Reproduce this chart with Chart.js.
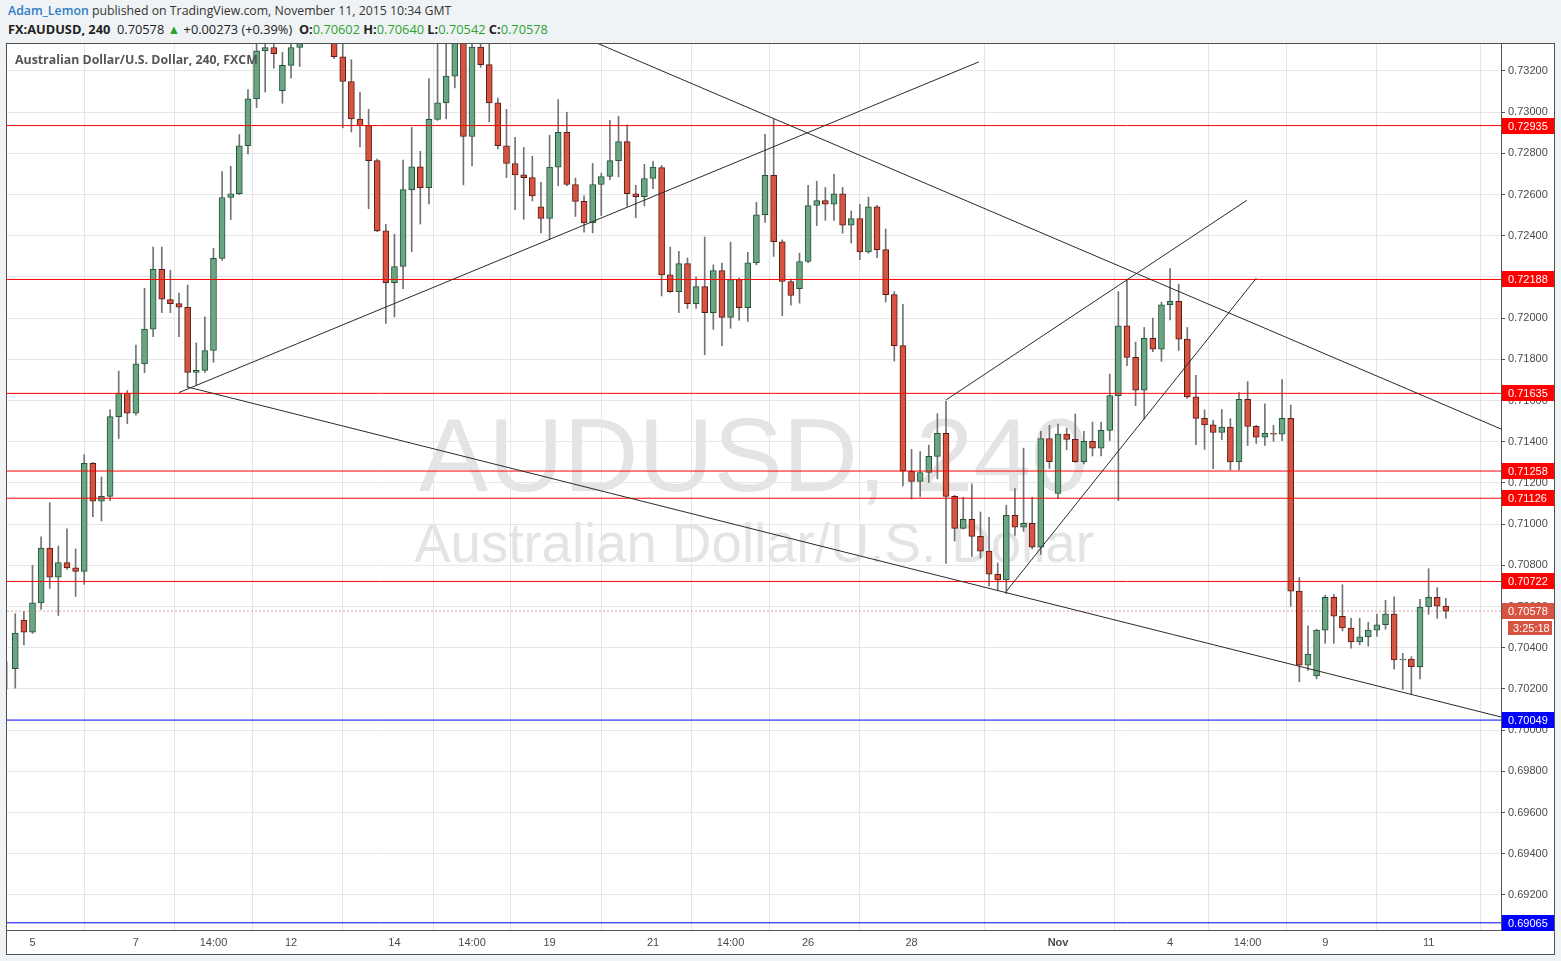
<!DOCTYPE html>
<html><head><meta charset="utf-8">
<script src="https://cdn.jsdelivr.net/npm/chart.js@4.4.0/dist/chart.umd.min.js"></script>
<style>
html,body{margin:0;padding:0;background:#f0f3f6;width:1561px;height:961px;overflow:hidden;font-family:"Open Sans",sans-serif}
#h1{position:absolute;left:8px;top:2px;font-size:12.3px;line-height:18px;color:#333;white-space:nowrap}
#h1 .user{color:#2f7bc4;font-weight:600}
#h2{position:absolute;left:8px;top:20px;font-size:12.8px;line-height:18px;color:#222;white-space:nowrap}
#h2 b{font-weight:700}
#h2 .g{color:#2ea22e}
#panel{position:absolute;left:6px;top:43px;width:1549px;height:912px;box-sizing:border-box;border:1px solid #505050;background:#fff}
#title{position:absolute;left:15px;top:51px;font-size:12.35px;line-height:18px;font-weight:700;color:#555;white-space:nowrap}
canvas{display:block}
</style></head><body>
<div id="h1"><span class="user">Adam_Lemon</span> published on TradingView.com, November 11, 2015 10:34 GMT</div>
<div id="h2"><b>FX:AUDUSD, 240</b>&nbsp; 0.70578 <span class="g">&#9650;</span> +0.00273 (+0.39%)&nbsp; <b>O:</b><span class="g">0.70602</span> <b>H:</b><span class="g">0.70640</span> <b>L:</b><span class="g">0.70542</span> <b>C:</b><span class="g">0.70578</span></div>
<div id="panel"><canvas id="c" width="1547" height="910" style="width:1547px;height:910px"></canvas></div>
<div id="title">Australian Dollar/U.S. Dollar, 240, FXCM</div>
<script>
// ---- data (4h candles, index 0 = partly hidden first bar) ----
const opens = [0.70298,
0.70298,0.70535,0.70476,0.70618,0.70884,0.70743,0.70814,0.70788,0.70771,0.71296,
0.71112,0.71135,0.71522,0.71637,0.71539,0.71778,0.71947,0.72237,0.72090,0.72071,
0.72053,0.71737,0.71747,0.71843,0.72290,0.72586,0.72604,0.72837,0.73065,0.73298,
0.73314,0.73104,0.73227,0.73314,0.73370,0.73440,0.73410,0.73380,0.73269,0.73149,
0.72967,0.72935,0.72765,0.72424,0.72173,0.72251,0.72624,0.72735,0.72633,0.72965,
0.73045,0.73175,0.73380,0.72882,0.73316,0.73231,0.73045,0.72837,0.72751,0.72696,
0.72682,0.72541,0.72484,0.72733,0.72902,0.72649,0.72567,0.72463,0.72649,0.72688,
0.72765,0.72857,0.72604,0.72590,0.72678,0.72731,0.72210,0.72129,0.72265,0.72071,
0.72153,0.72027,0.72231,0.72004,0.72188,0.72051,0.72269,0.72502,0.72694,0.72371,
0.72178,0.72143,0.72275,0.72547,0.72571,0.72553,0.72604,0.72451,0.72484,0.72322,
0.72541,0.72333,0.72114,0.71867,0.71257,0.71208,0.71251,0.71329,0.71441,0.71135,
0.70980,0.71024,0.70941,0.70869,0.70757,0.70729,0.71043,0.70986,0.71004,0.70888,
0.71416,0.71149,0.71437,0.71412,0.71304,0.71402,0.71369,0.71455,0.71624,0.71963,
0.71810,0.71651,0.71902,0.71849,0.72065,0.72082,0.71898,0.71618,0.71514,0.71482,
0.71445,0.71471,0.71302,0.71606,0.71475,0.71422,0.71441,0.71437,0.71514,0.70675,
0.70316,0.70263,0.70486,0.70645,0.70553,0.70496,0.70429,0.70453,0.70486,0.70512,
0.70563,0.70341,0.70345,0.70308,0.70598,0.70645,0.70602];
const highs = [0.70330,
0.70565,0.70576,0.70800,0.70939,0.71104,0.70894,0.70978,0.70880,0.71337,0.71300,
0.71229,0.71555,0.71743,0.71649,0.71869,0.72145,0.72345,0.72345,0.72233,0.72122,
0.72161,0.71880,0.72006,0.72339,0.72712,0.72737,0.72892,0.73110,0.73350,0.73360,
0.73340,0.73290,0.73345,0.73420,0.73480,0.73500,0.73460,0.73420,0.73350,0.73255,
0.73096,0.73014,0.72773,0.72455,0.72408,0.72767,0.72926,0.72810,0.73163,0.73345,
0.73340,0.73420,0.73440,0.73360,0.73350,0.73345,0.73069,0.73014,0.72878,0.72829,
0.72786,0.72659,0.72888,0.73061,0.73000,0.72680,0.72594,0.72751,0.72704,0.72961,
0.72980,0.72939,0.72645,0.72747,0.72761,0.72741,0.72345,0.72324,0.72292,0.72200,
0.72394,0.72259,0.72267,0.72369,0.72195,0.72320,0.72563,0.72892,0.72965,0.72380,
0.72190,0.72316,0.72645,0.72665,0.72635,0.72698,0.72635,0.72520,0.72553,0.72588,
0.72548,0.72433,0.72129,0.72067,0.71363,0.71353,0.71384,0.71537,0.71596,0.71140,
0.71131,0.71196,0.71059,0.71033,0.70812,0.71092,0.71173,0.71369,0.71131,0.71451,
0.71480,0.71486,0.71465,0.71535,0.71451,0.71496,0.71496,0.71729,0.72129,0.72190,
0.71884,0.71955,0.72000,0.72078,0.72241,0.72165,0.71955,0.71722,0.71555,0.71504,
0.71557,0.71512,0.71639,0.71692,0.71480,0.71584,0.71480,0.71702,0.71578,0.70741,
0.70506,0.70490,0.70655,0.70659,0.70706,0.70543,0.70543,0.70524,0.70563,0.70631,
0.70647,0.70373,0.70357,0.70635,0.70784,0.70692,0.70640];
const lows = [0.70200,
0.70204,0.70414,0.70470,0.70586,0.70688,0.70557,0.70780,0.70649,0.70708,0.71037,
0.71016,0.71114,0.71416,0.71488,0.71529,0.71735,0.71910,0.72027,0.72027,0.71910,
0.71667,0.71675,0.71737,0.71786,0.72280,0.72478,0.72600,0.72798,0.73022,0.73098,
0.73214,0.73043,0.73165,0.73222,0.73345,0.73380,0.73350,0.73260,0.72924,0.72904,
0.72831,0.72531,0.72420,0.71975,0.72006,0.72143,0.72322,0.72457,0.72555,0.72960,
0.72967,0.73118,0.72647,0.72739,0.73218,0.72953,0.72822,0.72682,0.72527,0.72480,
0.72569,0.72414,0.72382,0.72643,0.72643,0.72494,0.72418,0.72414,0.72498,0.72673,
0.72686,0.72543,0.72488,0.72545,0.72629,0.72108,0.72125,0.72027,0.72047,0.72047,
0.71822,0.71945,0.71867,0.71951,0.71990,0.71984,0.72259,0.72465,0.72300,0.72012,
0.72063,0.72073,0.72269,0.72449,0.72475,0.72475,0.72412,0.72365,0.72284,0.72315,
0.72294,0.72078,0.71792,0.71186,0.71122,0.71135,0.71202,0.71220,0.70810,0.70918,
0.70976,0.70843,0.70835,0.70700,0.70678,0.70663,0.70945,0.70965,0.70880,0.70853,
0.71271,0.71124,0.71361,0.71300,0.71292,0.71331,0.71331,0.71406,0.71114,0.71769,
0.71575,0.71510,0.71837,0.71790,0.71992,0.71843,0.71610,0.71386,0.71363,0.71269,
0.71410,0.71263,0.71263,0.71382,0.71392,0.71382,0.71402,0.71406,0.70602,0.70235,
0.70290,0.70249,0.70422,0.70422,0.70482,0.70398,0.70414,0.70408,0.70455,0.70490,
0.70296,0.70198,0.70173,0.70249,0.70563,0.70543,0.70542];
const closes = [0.70298,
0.70471,0.70476,0.70618,0.70884,0.70743,0.70814,0.70788,0.70771,0.71296,0.71112,
0.71135,0.71522,0.71637,0.71539,0.71778,0.71947,0.72237,0.72092,0.72071,0.72053,
0.71737,0.71747,0.71843,0.72290,0.72586,0.72604,0.72837,0.73065,0.73298,0.73314,
0.73284,0.73227,0.73314,0.73370,0.73440,0.73410,0.73380,0.73269,0.73149,0.72967,
0.72935,0.72765,0.72424,0.72173,0.72251,0.72624,0.72735,0.72633,0.72965,0.73045,
0.73175,0.73380,0.72882,0.73316,0.73231,0.73045,0.72837,0.72751,0.72696,0.72682,
0.72594,0.72484,0.72733,0.72902,0.72649,0.72567,0.72463,0.72649,0.72688,0.72765,
0.72857,0.72604,0.72590,0.72678,0.72733,0.72210,0.72129,0.72265,0.72071,0.72153,
0.72027,0.72231,0.72004,0.72188,0.72051,0.72269,0.72502,0.72694,0.72371,0.72178,
0.72110,0.72275,0.72547,0.72571,0.72553,0.72604,0.72451,0.72484,0.72322,0.72541,
0.72333,0.72114,0.71867,0.71257,0.71208,0.71251,0.71329,0.71441,0.71135,0.70980,
0.71024,0.70941,0.70869,0.70757,0.70729,0.71043,0.70986,0.71004,0.70888,0.71416,
0.71304,0.71437,0.71412,0.71304,0.71402,0.71369,0.71455,0.71624,0.71963,0.71810,
0.71651,0.71902,0.71849,0.72065,0.72082,0.71898,0.71618,0.71514,0.71482,0.71445,
0.71471,0.71302,0.71606,0.71475,0.71422,0.71441,0.71437,0.71514,0.70675,0.70316,
0.70369,0.70486,0.70645,0.70553,0.70496,0.70429,0.70453,0.70486,0.70512,0.70563,
0.70341,0.70345,0.70308,0.70598,0.70645,0.70602,0.70578];

const xTickIndex  = [3, 15, 24, 33, 45, 54, 63, 75, 84, 93, 105, 122, 135, 144, 153, 165];
const xTickLabels = ['5','7','14:00','12','14','14:00','19','21','14:00','26','28','Nov','4','14:00','9','11'];
const yTickLabels = ['0.69200','0.69400','0.69600','0.69800','0.70000','0.70200','0.70400','0.70600','0.70800','0.71000',
  '0.71200','0.71400','0.71600','0.71800','0.72000','0.72200','0.72400','0.72600','0.72800','0.73000','0.73200'];

const redLevels  = [0.72935, 0.72188, 0.71635, 0.71258, 0.71126, 0.70722];
const blueLevels = [0.70049, 0.69065];
const lastPrice  = 0.70578;
const countdown  = '3:25:18';
// trend lines: [startIndex, startPrice, endIndex, endPrice]
const trendLines = [
  [20.0, 0.71639, 112.8, 0.73244],
  [20.9, 0.71667, 173.4, 0.70064],
  [68.4, 0.73337, 173.4, 0.71462],
  [109.0, 0.71603, 143.9, 0.72572],
  [116.0, 0.70674, 145.0, 0.72194]
];
const X_MIN = 0.04, X_MAX = 173.4, Y_MIN = 0.69030, Y_MAX = 0.73331;

// ---- styles ----
const UP = '#6ba583', UP_B = '#225437', DN = '#d75442', DN_B = '#5b1a13', WICK = '#737375';
const AXIS_FONT = 'Liberation Sans, Arial, sans-serif';

const isUp = closes.map((c, i) => c >= opens[i]);
const datasets = [];

trendLines.forEach(t => datasets.push({
  type: 'line', order: 0, data: [{x: t[0], y: t[1]}, {x: t[2], y: t[3]}],
  borderColor: '#2a2a2a', borderWidth: 1, pointRadius: 0, clip: 0
}));
redLevels.forEach(v => datasets.push({
  type: 'line', order: 1, data: [{x: X_MIN, y: v}, {x: X_MAX, y: v}],
  borderColor: '#ff0000', borderWidth: 1, pointRadius: 0, clip: 0
}));
blueLevels.forEach(v => datasets.push({
  type: 'line', order: 1, data: [{x: X_MIN, y: v}, {x: X_MAX, y: v}],
  borderColor: '#0000ff', borderWidth: 1, pointRadius: 0, clip: 0
}));
datasets.push({
  type: 'bar', order: 2, grouped: false, clip: 0,
  data: opens.map((o, i) => ({x: i, y: [o, closes[i]]})),
  backgroundColor: isUp.map(u => u ? UP : DN),
  borderColor: isUp.map(u => u ? UP_B : DN_B),
  borderWidth: 1, borderSkipped: false, barThickness: 6
});
datasets.push({
  type: 'bar', order: 3, grouped: false, clip: 0,
  data: highs.map((h, i) => ({x: i, y: [lows[i], h]})),
  backgroundColor: WICK, borderWidth: 0, barThickness: 1
});
datasets.push({
  type: 'line', order: 4, data: [{x: X_MIN, y: lastPrice}, {x: X_MAX, y: lastPrice}],
  borderColor: 'rgba(215,84,66,0.55)', borderWidth: 1, borderDash: [2, 2], pointRadius: 0, clip: 0
});

const overlay = {
  id: 'overlay',
  beforeDraw(chart) {
    const {ctx, chartArea: a} = chart;
    ctx.save();
    ctx.fillStyle = '#e4e4e4';
    ctx.textAlign = 'center';
    ctx.textBaseline = 'alphabetic';
    const cx = (a.left + a.right) / 2;
    const fit = (txt, w, weight) => {
      ctx.font = weight + ' 100px Liberation Sans, Arial, sans-serif';
      const s = 100 * w / ctx.measureText(txt).width;
      ctx.font = weight + ' ' + s.toFixed(1) + 'px Liberation Sans, Arial, sans-serif';
    };
    fit('AUDUSD, 240', 670, 'normal');
    ctx.fillText('AUDUSD, 240', cx, a.top + 447);
    fit('Australian Dollar/U.S. Dollar', 680, 'normal');
    ctx.fillText('Australian Dollar/U.S. Dollar', cx, a.top + 518);
    ctx.restore();
  },
  afterDraw(chart) {
    const {ctx, chartArea: a} = chart;
    const y = chart.scales.y;
    ctx.save();
    ctx.font = '11px ' + AXIS_FONT;
    ctx.textBaseline = 'middle';
    ctx.textAlign = 'left';
    const box = (v, color, txt, x0, w, dy) => {
      const py = Math.round(y.getPixelForValue(v)) + (dy || 0);
      ctx.fillStyle = color;
      ctx.fillRect(x0, py - 8, w, 16);
      ctx.fillStyle = '#ffffff';
      ctx.fillText(txt, x0 + 6, py + 0.5);
    };
    redLevels.forEach(v => box(v, '#ff0000', v.toFixed(5), a.right + 1, 52));
    blueLevels.forEach(v => box(v, '#0000ff', v.toFixed(5), a.right + 1, 52));
    box(lastPrice, '#d75442', lastPrice.toFixed(5), a.right + 1, 52);
    const py = Math.round(y.getPixelForValue(lastPrice));
    ctx.fillStyle = '#d75442';
    ctx.fillRect(a.right + 7, py + 10, 44, 14);
    ctx.fillStyle = '#ffffff';
    ctx.fillText(countdown, a.right + 12, py + 17.5);
    ctx.restore();
  }
};

new Chart(document.getElementById('c'), {
  type: 'bar',
  data: {datasets},
  plugins: [overlay],
  options: {
    responsive: false, animation: false, devicePixelRatio: 1,
    layout: {padding: 0},
    plugins: {legend: {display: false}, tooltip: {enabled: false}},
    scales: {
      x: {
        type: 'linear', position: 'bottom', min: X_MIN, max: X_MAX, offset: false,
        afterBuildTicks: s => { s.ticks = xTickIndex.map(v => ({value: v})); },
        afterFit: s => { s.height = 24; s.paddingLeft = 0; s.paddingRight = 0; },
        grid: {color: '#e6e6e6', drawTicks: false},
        border: {color: '#555555'},
        ticks: {
          autoSkip: false, maxRotation: 0, minRotation: 0, padding: 6, color: '#4a4a4a',
          callback: (v, i) => xTickLabels[i],
          font: ctx => ({family: AXIS_FONT, size: 11, weight: (ctx.tick && ctx.tick.label === 'Nov') ? 'bold' : 'normal'})
        }
      },
      y: {
        type: 'linear', position: 'right', min: Y_MIN, max: Y_MAX,
        afterBuildTicks: s => { s.ticks = yTickLabels.map(t => ({value: parseFloat(t)})); },
        afterFit: s => { s.width = 53; s.paddingTop = 0; s.paddingBottom = 0; },
        grid: {color: '#e6e6e6', tickColor: '#555555', tickLength: 4},
        border: {color: '#555555'},
        ticks: {
          padding: 3, color: '#4a4a4a', font: {family: AXIS_FONT, size: 11},
          callback: (v, i) => yTickLabels[i]
        }
      }
    }
  }
});
</script>
</body></html>
